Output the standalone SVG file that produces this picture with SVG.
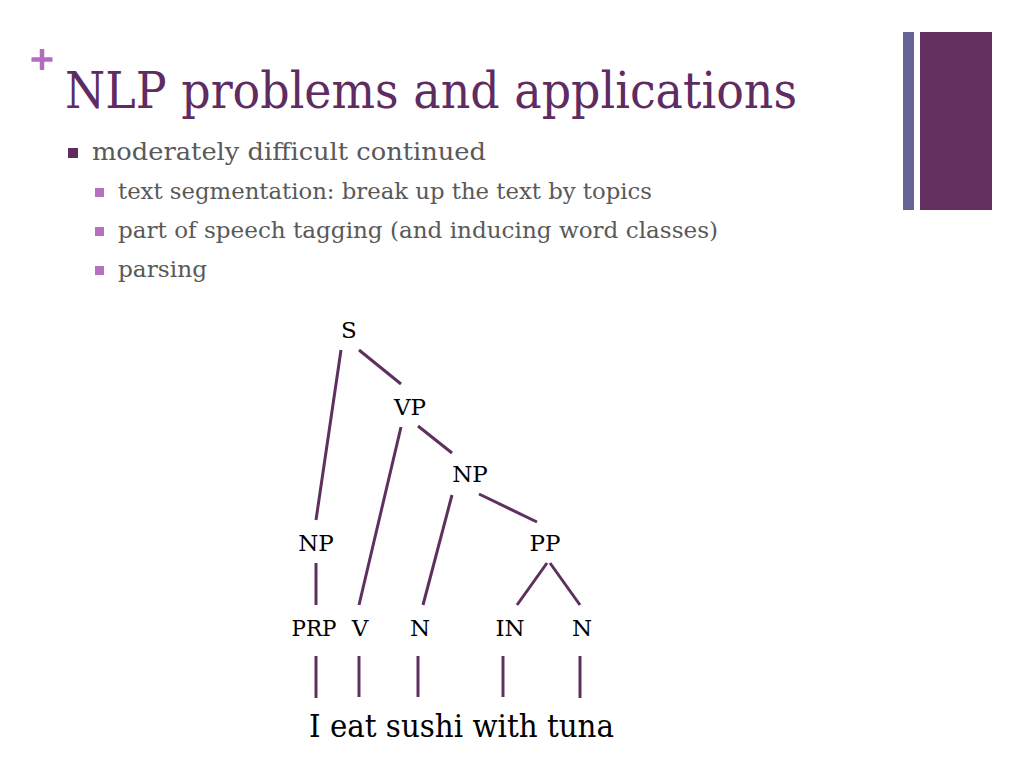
<svg xmlns="http://www.w3.org/2000/svg" width="1024" height="768" viewBox="0 0 1024 768">
<style>
.t{font-family:"DejaVu Serif","Liberation Serif",serif}
.title{font-size:50px;fill:#5f2c62}
.b1{font-size:25px;fill:#595959}
.b2{font-size:22px;fill:#595959}
.lab{font-size:23px;fill:#000;text-anchor:middle}
.e{stroke:#5e3060;stroke-width:3;stroke-linecap:butt;fill:none}
</style>
<rect width="1024" height="768" fill="#fff"/>
<g id="decor">
<rect x="903" y="32" width="11" height="178" fill="#646496"/>
<rect x="920" y="32" width="72" height="178" fill="#64305f"/>
<path d="M42 49V70M31.5 59.5H52.5" stroke="#b36cc0" stroke-width="4.5"/>
</g>
<g id="title"><text class="t title" x="65" y="108" textLength="732" lengthAdjust="spacingAndGlyphs">NLP problems and applications</text></g>
<g id="bullets">
<rect x="68" y="148" width="10" height="10" fill="#5f2c62"/>
<text class="t b1" x="92" y="160" textLength="394" lengthAdjust="spacingAndGlyphs">moderately difficult continued</text>
<rect x="95" y="188" width="9" height="9" fill="#b86fc0"/>
<text class="t b2" x="118" y="199" textLength="534" lengthAdjust="spacingAndGlyphs">text segmentation: break up the text by topics</text>
<rect x="95" y="227" width="9" height="9" fill="#b86fc0"/>
<text class="t b2" x="118" y="238" textLength="600" lengthAdjust="spacingAndGlyphs">part of speech tagging (and inducing word classes)</text>
<rect x="95" y="266" width="9" height="9" fill="#b86fc0"/>
<text class="t b2" x="118" y="277" textLength="89" lengthAdjust="spacingAndGlyphs">parsing</text>
</g>
<g id="connectors">
<line class="e" x1="341" y1="350" x2="316" y2="520"/>
<line class="e" x1="359" y1="350" x2="401" y2="384"/>
<line class="e" x1="401" y1="427" x2="359" y2="605"/>
<line class="e" x1="418" y1="426" x2="452" y2="453"/>
<line class="e" x1="452" y1="495" x2="423" y2="605"/>
<line class="e" x1="479" y1="494" x2="537" y2="522"/>
<line class="e" x1="316" y1="563" x2="316" y2="605"/>
<line class="e" x1="547" y1="563" x2="517" y2="605"/>
<line class="e" x1="550" y1="563" x2="580" y2="605"/>
<line class="e" x1="316" y1="656" x2="316" y2="698"/>
<line class="e" x1="359" y1="656" x2="359" y2="697"/>
<line class="e" x1="418" y1="656" x2="418" y2="697"/>
<line class="e" x1="503" y1="656" x2="503" y2="697"/>
<line class="e" x1="580" y1="656" x2="580" y2="698"/>
</g>
<g id="n-S"><text class="t lab" x="349" y="338">S</text></g>
<g id="n-VP"><text class="t lab" x="410" y="415">VP</text></g>
<g id="n-NP1"><text class="t lab" x="470" y="482">NP</text></g>
<g id="n-NP2"><text class="t lab" x="316" y="551">NP</text></g>
<g id="n-PP"><text class="t lab" x="545" y="551">PP</text></g>
<g id="n-PRP"><text class="t lab" x="314" y="636" textLength="45" lengthAdjust="spacingAndGlyphs">PRP</text></g>
<g id="n-V"><text class="t lab" x="360" y="636">V</text></g>
<g id="n-N1"><text class="t lab" x="420" y="636">N</text></g>
<g id="n-IN"><text class="t lab" x="510" y="636">IN</text></g>
<g id="n-N2"><text class="t lab" x="582" y="636">N</text></g>
<g id="sentence"><text class="t" x="309" y="737" font-size="31" fill="#000" textLength="305" lengthAdjust="spacingAndGlyphs">I eat sushi with tuna</text></g>
</svg>
